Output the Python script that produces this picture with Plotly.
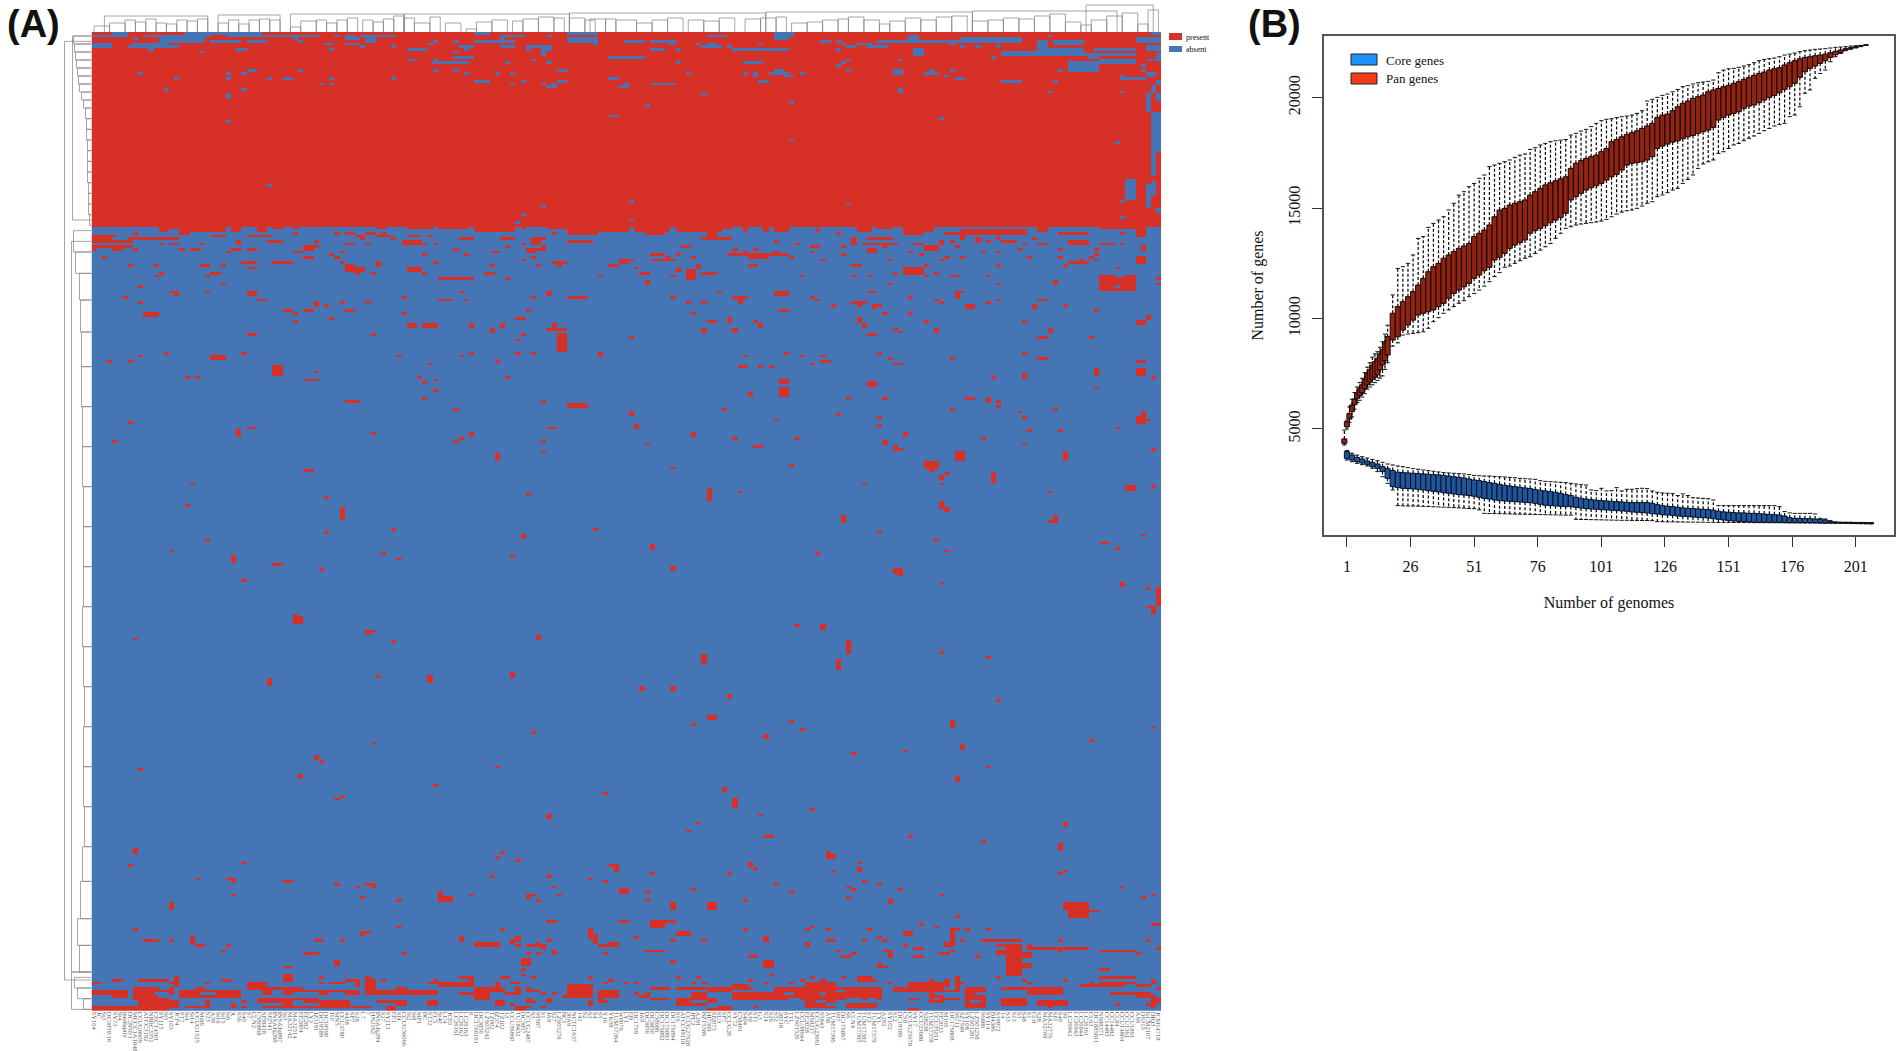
import numpy as np
import plotly.graph_objects as go

W, H = 1902, 1051

n_genomes = 207
n_genes = 367
core_block_rows = 73

genome_labels = [
    "SY104","JC","St3","DC3859/16","SY73","St4","medlaptly","DC3950/1","MCCC1A1848","CCUG8606","ATCC3192","NBRC3351",
    "CECT4301","SY115","St5","SY103","JCF4","ST7","St4","St14","CCUG1525","Mdt6","S23","A39","St16","St15","St6","X",
    "S56","S40","S7","CLN2","C580868","SJ59418","SJ2541","INSAJq268","INSAJq897","St3","MA32142","MA32514","EE2804",
    "EE282","LY3","JZ3191","DC19589","DC19590","J10","MN5","CCU3780","4438","SF7","S28","L7","7","HN2162","INSAJq294",
    "S27","SY113","EE1","Sf4","CCUG56066","St2","St8","MF1","BC","ST32","EC5","St40","LC4","JC03","LC26161","LC26162",
    "LC26163","8","DC17S6161","DC3856","LZS03242","TZ002","IZ374","TZ102","13","CCU36860","TU18432","DC3857","CCUG2487",
    "S3","S9587","S1","JA9","S27","LZS03276","BC1","30A9","NCTC1637","141","S2","S3","S4","S5","Y16","YK58","TUM17364",
    "W0076","LY1","EB","DC17S9","JA9","DC3856","DC3850","C58686","DC17S892","DC17S893","DC17S894","S16","ATCC49118",
    "CCUG27628","JFC2","A291","BZ15386","HI7369","SJ2073","SU3","SF7","CCUG26","SY72","C58461","S404","S39","ST1","G3",
    "S24","S26","S52","28318","SYC","TTL","LZS01526","CCU38644","EE2028","MS8217","CCUG23661","S5843","A58","TUM17396",
    "S97","DC17S867","S6","CLN4","TUM17383","TUM17382","ST3","TUM17379","TYL","A292","SY102","S12","DC19589","CS8",
    "CCUG25678","SY17","CCU23688","S28238","TUM17378","CCU35011","EE2023","M16S","DC17S808","S6711","SZ7549","SY108",
    "LZS01281","LZS01258","S6886","SY114","BJ4386","S39972","14","S33","S13","S5","S48","S1","CL8","S28","MA32769",
    "MA32776","SJ3","S49","S9","LC26942","LC26943","LC26944","LC26161","CL63","DC1885811","NS88371","CC14483","CC14482",
    "CL84","CCU14804","CCU1361","CCU1861","AS6","DS315","KCM2107","DIQ3","JCM14718",
]

# (first genome, first gene, genomes wide, genes tall)
absent_in_core = [
    (4,0,3,1),(18,0,15,1),(0,1,7,1),(10,1,3,1),(13,1,4,1),(17,1,6,1),(26,1,6,1),(32,1,12,1),(47,1,1,1),(49,1,2,1),
    (52,1,3,1),(55,1,4,1),(74,0,3,1),(79,1,5,1),(88,1,1,1),(92,0,6,1),(8,2,1,1),(13,2,2,3),(15,2,2,2),(17,2,5,2),
    (23,3,6,1),(30,3,4,1),(39,2,1,1),(40,3,1,1),(49,2,3,1),(53,2,2,2),(74,3,8,1),(79,2,1,1),(92,2,6,2),(97,4,1,1),
    (0,4,4,2),(7,5,10,1),(8,4,7,1),(11,6,1,1),(21,7,1,1),(28,6,2,1),(45,4,2,1),(46,6,1,1),(49,4,3,1),(52,5,1,1),
    (58,5,1,1),(61,6,4,1),(65,4,1,1),(66,3,1,1),(70,3,1,1),(70,7,1,1),(71,5,3,1),(72,6,1,1),(70,9,4,1),(79,5,3,1),
    (84,5,5,1),(84,6,1,1),(87,6,1,3),(88,6,1,1),(61,10,2,1),(66,10,1,2),(66,11,7,1),(80,11,1,1),(85,10,1,1),(88,11,1,1),
    (100,9,4,1),(90,14,2,1),(26,15,1,1),(30,14,2,1),(40,14,1,1),(66,14,1,1),(70,14,1,1),(9,15,1,1),(29,15,1,1),(72,15,1,1),
    (78,15,1,1),(81,15,1,1),(16,17,1,1),(26,17,1,1),(34,17,1,1),(37,17,2,1),(46,17,1,1),(58,17,1,1),(100,17,2,1),(74,18,3,1),
    (83,18,1,1),(90,18,2,1),(44,19,1,1),(46,19,1,1),(81,19,1,1),(87,19,1,1),(89,19,1,2),(88,20,2,1),(102,20,2,1),(14,21,1,1),
    (29,21,1,1),(26,23,1,2),(100,31,2,1),(26,33,1,1),(34,57,1,1),(87,65,1,1),(83,68,1,1),(82,71,1,1),
    (132,0,4,2),(119,1,4,1),(132,2,3,1),(108,3,5,1),(112,4,1,1),(103,3,4,1),(141,3,2,1),(144,3,1,1),(145,4,1,1),(148,4,3,1),
    (146,5,2,1),(150,5,4,1),(152,3,6,1),(158,1,2,3),(160,3,8,1),(168,2,12,2),(166,4,1,1),(168,5,1,1),(171,5,1,1),(175,5,1,1),
    (117,4,1,1),(118,5,4,1),(119,4,2,1),(123,5,1,1),(124,6,11,1),(129,4,1,1),(108,6,3,1),(113,6,1,1),(144,6,1,1),(159,6,2,3),
    (176,7,4,2),(176,8,26,1),(180,7,3,1),(183,6,3,2),(186,6,6,2),(183,3,2,3),(185,1,1,1),(186,3,6,2),(194,6,8,1),(195,10,7,2),
    (193,9,2,1),(202,2,5,2),(174,9,1,1),(103,9,4,1),(113,11,1,1),(126,11,4,1),(144,12,1,1),(145,11,1,1),(146,10,1,1),(156,10,1,1),
    (132,14,2,1),(128,15,1,2),(126,15,1,1),(131,15,4,1),(134,16,2,1),(137,15,1,1),(115,15,1,1),(146,14,1,1),(155,14,2,2),(162,14,1,1),
    (161,15,3,1),(166,14,1,1),(165,16,1,1),(167,17,2,1),(189,11,6,4),(187,14,1,1),(203,14,1,1),(204,15,2,2),(199,17,5,1),(199,16,1,1),
    (129,18,2,1),(176,18,4,1),(186,18,1,1),(103,19,1,1),(108,19,5,1),(118,23,1,1),(156,21,1,2),(185,22,1,1),(199,22,1,1),(107,27,1,1),
    (135,26,1,1),(164,32,1,1),(135,40,1,1),(198,41,1,1),(104,63,1,1),(146,64,1,1),(199,63,1,1),(200,55,2,8),(104,70,1,1),(199,69,1,1),
    (204,5,3,2),(205,0,2,1),(206,8,1,3),(203,12,1,1),(204,10,3,1),(205,30,2,9),(204,23,1,7),(205,20,1,3),(206,23,1,3),(206,18,1,2),
    (205,39,1,15),(206,39,1,6),(204,57,2,2),(204,59,1,7),(205,56,1,5),(206,66,1,2),
]

present_in_accessory = [
    # core block edge
    (15,73,2,1),(17,73,2,3),(19,73,2,2),(21,73,5,2),(27,73,2,2),(32,73,2,2),(35,73,2,1),(39,73,1,1),(55,73,2,1),(61,73,5,1),
    (67,73,6,1),(74,73,8,2),(83,73,1,1),(88,73,4,1),(92,73,6,3),(98,73,6,2),(103,73,1,2),(105,73,2,2),(107,73,1,3),(108,73,3,3),
    (111,73,1,2),(113,73,9,2),(122,73,2,1),(126,73,1,2),(130,73,1,2),(132,73,3,2),(140,74,1,1),(144,75,1,1),(148,73,3,2),(152,73,3,1),
    (157,73,4,3),(161,73,2,2),(165,75,3,1),(168,74,13,2),(183,73,2,2),(187,75,6,1),(195,73,9,1),(199,75,1,1),(202,74,2,3),
    # left half, upper
    (13,73,2,2),(0,76,5,1),(0,77,4,1),(7,77,10,1),(0,78,2,1),(2,78,6,1),(8,75,1,1),(23,76,3,1),(30,76,5,1),(34,78,3,1),
    (28,78,1,2),(39,75,1,1),(43,78,1,1),(47,75,1,1),(49,75,2,1),(51,76,2,1),(52,77,1,1),(53,75,2,1),(55,76,3,1),(56,75,1,1),
    (58,77,1,1),(61,76,3,1),(65,76,1,1),(60,78,4,2),(64,79,1,1),(66,79,1,1),(49,79,2,1),(53,79,1,1),(13,79,1,1),(15,79,2,1),
    (21,79,1,1),(71,77,3,1),(79,77,3,1),(85,77,3,1),(85,78,2,2),(83,79,1,1),(92,78,5,1),(89,75,1,1),(80,80,1,1),(87,80,1,2),
    (84,81,2,2),(86,81,2,1),(0,80,8,1),(4,81,2,1),(0,81,1,1),(8,81,1,1),(17,81,1,1),(19,81,2,1),(27,81,2,1),(26,82,1,1),
    (30,81,2,1),(39,82,2,1),(41,80,2,2),(43,80,1,1),(70,81,1,1),(77,82,2,1),(48,82,1,1),(46,83,1,1),(47,84,1,1),(64,83,1,1),
    (72,83,1,1),(2,84,1,1),(41,84,2,1),(85,84,1,1),(83,85,1,1),(29,86,3,1),(35,86,4,1),(48,86,1,1),(66,86,1,1),(55,86,1,2),
    (89,86,3,1),(90,87,1,1),(102,85,2,2),(7,87,1,1),(12,87,1,1),(21,87,2,1),(25,87,1,1),(77,87,1,1),(86,87,1,1),(100,87,2,1),
    (30,88,2,1),(49,87,2,3),(51,88,2,2),(51,90,1,1),(61,88,3,2),(64,90,1,1),(54,90,1,1),(23,90,2,1),(13,90,1,1),(12,91,1,1),
    (22,91,1,1),(76,90,2,1),(98,91,1,1),(67,92,7,1),(80,92,1,1),(9,95,1,1),(25,94,1,1),(15,97,2,1),(16,98,1,1),(22,97,1,1),
    (30,97,2,2),(71,97,1,1),(88,97,1,2),(6,99,1,1),(60,99,1,1),(85,99,1,1),(92,99,4,1),(32,100,2,1),(67,100,3,1),(72,100,1,1),
    (9,101,1,1),(43,101,1,2),(48,101,1,1),(53,101,1,1),(45,102,1,1),(37,104,2,1),(39,105,1,1),(41,104,2,1),(49,104,2,1),(84,104,1,1),
    (60,105,1,1),(10,105,3,2),(82,107,2,1),(46,107,1,1),(39,108,1,1),(61,109,2,2),(64,109,3,2),(73,109,1,2),(79,109,1,2),(89,109,1,2),
    (77,111,1,2),(88,111,4,1),(30,113,2,1),(54,113,1,1),(83,113,1,1),(90,113,2,7),(82,115,1,1),(9,121,1,1),(14,120,1,1),(23,121,3,2),
    (29,120,1,1),(59,121,1,1),(71,121,1,1),(73,120,1,1),(82,120,1,1),(85,120,1,1),(98,120,1,2),
    # right half, upper
    (132,78,1,1),(136,79,1,1),(139,80,2,1),(145,80,1,1),(147,78,1,2),(147,77,1,1),(150,77,5,1),(149,79,7,1),(153,80,1,1),(159,79,2,1),
    (161,80,3,2),(164,78,1,2),(166,78,1,1),(167,80,1,1),(168,76,1,2),(171,77,1,2),(173,78,1,1),(175,77,1,1),(176,78,3,1),(180,79,1,1),
    (182,77,1,1),(183,79,2,1),(189,78,4,2),(195,79,3,1),(199,79,1,1),(203,80,1,2),(114,80,2,1),(118,77,6,1),(119,75,2,2),(108,83,3,1),
    (113,83,1,1),(108,85,5,1),(111,84,1,1),(103,85,2,1),(116,84,1,1),(123,83,1,1),(124,81,1,1),(124,83,11,1),(126,82,1,1),(128,81,1,1),
    (132,82,1,1),(127,84,4,1),(135,84,1,1),(139,82,1,1),(141,85,1,1),(145,83,1,1),(150,81,2,2),(158,82,1,1),(160,83,1,1),(172,82,1,1),
    (175,82,1,1),(179,81,1,1),(181,84,1,1),(187,81,1,1),(187,84,1,1),(194,81,1,1),(194,83,1,1),(194,85,1,1),(193,84,1,1),(189,86,4,1),
    (191,85,1,1),(188,87,1,1),(202,84,2,3),(164,85,1,1),(165,84,1,1),(168,84,1,1),(154,85,1,1),(127,87,2,1),(147,87,2,1),(161,87,1,1),
    (175,87,1,1),(105,88,1,1),(106,90,2,1),(107,93,1,2),(112,91,1,1),(113,88,1,2),(115,89,2,4),(117,87,1,2),(118,90,3,1),(137,91,1,1),
    (147,91,1,1),(150,91,1,1),(155,90,1,1),(157,88,4,3),(161,91,1,1),(163,90,1,1),(166,91,2,1),(173,91,1,1),(198,88,1,1),(154,94,1,1),
    (175,94,1,1),(186,93,1,2),(195,91,7,6),(206,92,1,1),(206,94,1,1),(121,97,1,1),(132,97,3,2),(150,97,2,1),(167,97,2,1),(167,98,1,2),
    (112,99,1,1),(124,99,3,1),(125,100,1,2),(139,99,1,1),(140,100,1,1),(158,99,1,1),(163,100,1,1),(164,101,1,1),(175,100,1,1),(183,100,2,1),
    (115,101,1,1),(118,101,1,1),(143,102,1,1),(147,101,3,1),(148,102,1,1),(151,102,2,1),(151,103,1,1),(169,102,2,2),(173,101,1,1),(182,102,1,2),
    (188,102,1,1),(133,104,2,1),(116,105,1,1),(153,105,1,1),(158,105,1,1),(194,104,1,1),(119,108,2,1),(123,107,1,2),(128,108,1,1),(129,109,1,2),
    (148,107,1,2),(149,109,1,2),(161,108,1,1),(180,108,1,1),(202,108,2,2),(204,106,1,2),(118,111,1,2),(124,111,1,2),(155,111,1,1),(156,112,1,1),
    (163,111,1,2),(185,111,1,2),(150,113,2,1),(104,114,1,1),(183,114,2,1),(193,114,1,1),(126,121,1,1),(134,120,1,1),(137,121,1,1),(141,121,1,1),
    (152,120,1,1),(154,122,1,1),(166,122,1,1),(180,120,1,1),(183,122,2,1),
    # middle, left
    (3,123,1,1),(7,123,1,1),(23,122,3,1),(35,125,2,4),(43,127,1,1),(41,130,3,1),(18,129,1,1),(20,129,1,1),(49,138,3,1),(65,124,1,1),
    (63,129,1,1),(64,131,1,1),(66,130,1,1),(66,134,1,1),(64,137,1,1),(70,141,1,1),(78,123,1,1),(80,129,1,1),(87,138,1,1),(92,139,4,2),
    (7,146,1,1),(4,153,1,1),(28,149,1,3),(30,148,2,1),(54,150,1,1),(70,153,1,1),(71,152,1,1),(73,150,1,2),(88,148,2,1),(87,153,1,1),
    (87,157,1,1),(78,158,1,3),(41,164,2,1),(19,169,1,1),(84,173,1,1),(18,177,1,1),(45,174,1,1),(48,178,1,5),(45,187,1,1),(58,186,1,1),
    (22,190,1,1),(15,194,1,1),(83,188,1,2),(97,186,1,1),(27,196,1,3),(35,199,2,1),(44,201,1,1),(56,195,1,1),(59,197,1,1),(81,196,1,1),
    (29,205,1,1),(39,218,1,2),(39,219,2,3),(53,224,1,2),(54,224,1,1),(8,227,1,1),(58,228,1,1),(86,226,1,2),(34,242,1,3),(55,241,1,1),
    (65,241,1,3),(81,240,1,2),
    # middle, right
    (125,125,2,1),(129,125,1,1),(131,125,1,1),(139,124,1,1),(141,123,2,1),(155,124,2,1),(133,130,2,2),(133,133,2,4),(150,131,2,2),(127,135,1,2),
    (146,137,1,1),(153,137,1,1),(122,141,1,1),(104,142,1,2),(144,143,1,1),(132,145,1,1),(152,144,1,1),(152,147,1,1),(105,147,1,2),(116,150,1,2),
    (124,152,1,1),(136,152,1,1),(157,150,1,2),(153,153,1,2),(155,155,1,2),(156,156,1,1),(107,154,1,1),(128,155,2,1),(112,163,1,1),(135,162,1,1),
    (161,161,3,3),(162,164,1,1),(165,165,1,1),(164,166,1,2),(164,169,1,1),(167,157,2,4),(174,165,1,4),(149,169,1,1),(125,172,1,1),(119,171,1,5),
    (185,172,1,1),(200,170,2,2),(205,170,1,1),(188,157,1,4),(164,176,1,3),(165,178,1,2),(145,181,1,3),(186,181,1,3),(185,183,1,1),(152,187,1,1),
    (163,190,1,1),(165,194,1,1),(203,188,1,1),(195,191,2,1),(198,193,1,1),(108,192,1,2),(140,195,1,1),(112,200,1,2),(155,201,2,2),(156,203,1,1),
    (164,206,1,1),(199,206,1,2),(204,208,1,1),(206,208,1,7),(204,215,2,1),(205,216,1,2),(136,222,1,1),(141,222,1,2),(146,228,1,5),(118,233,1,4),
    (144,235,1,4),(164,232,1,1),(173,234,1,1),(106,245,1,2),(112,245,1,2),(194,126,1,3),(202,126,2,3),(202,123,2,1),(205,129,1,1),(180,128,1,2),
    (174,129,1,1),(194,133,1,1),(169,137,2,1),(173,137,1,2),(175,138,1,1),(175,140,1,1),(166,141,1,1),(179,142,1,1),(180,144,1,1),(186,141,1,1),
    (181,149,1,1),(187,149,1,1),(172,152,1,1),(180,154,1,1),(198,148,1,1),(202,144,2,3),(203,142,1,2),(204,145,1,1),(205,156,1,1),
    # lower, left
    (85,262,1,1),(54,266,1,1),(43,271,1,2),(44,273,1,1),(9,276,1,1),(78,275,1,1),(40,278,1,2),(66,282,1,1),(99,285,1,1),(47,287,1,1),
    (48,286,1,1),(88,293,1,2),(8,306,1,2),(7,312,1,1),(29,311,1,1),(79,307,1,1),(78,309,1,1),(82,310,1,1),(100,312,2,1),(101,313,1,2),
    (77,316,1,1),(88,316,1,1),(20,317,1,1),(26,317,2,1),(27,318,1,1),(37,318,2,1),(47,319,1,1),(51,320,1,1),(53,319,2,1),(54,320,1,1),
    (96,317,1,1),(99,318,1,1),(89,320,1,1),(102,321,2,2),(27,323,1,1),(73,323,1,1),(84,323,1,2),(85,323,1,1),(90,323,1,1),(52,324,1,1),
    (59,325,1,1),(86,325,1,1),(67,322,1,4),(68,324,2,2),(15,326,1,3),(88,333,2,1),(102,333,2,1),(8,336,1,1),(59,335,1,1),(79,336,1,1),
    (52,337,1,2),(53,337,1,1),(71,339,1,2),(82,339,1,2),(81,340,1,2),(10,340,3,1),(15,340,1,1),(19,339,1,3),(20,342,2,1),(26,342,1,1),
    (25,344,1,1),(43,340,2,1),(48,340,1,1),(74,341,5,2),(88,340,1,1),(82,342,1,1),(84,342,3,1),(86,341,1,1),(87,342,1,2),(96,336,1,2),
    (96,338,2,2),(97,340,1,2),(98,342,3,1),(100,341,2,2),(89,344,1,2),(84,345,1,1),(86,345,1,1),(41,345,3,1),(60,345,1,1),(99,345,1,1),
    (47,348,1,2),(83,347,2,3),(37,350,2,1),(83,351,1,1),(83,353,1,1),
    # bottom band, left
    (4,355,2,1),(9,355,6,1),(25,355,2,1),(37,353,2,3),(44,354,1,1),(44,356,1,1),(49,355,2,1),(53,354,1,1),(56,355,1,1),(71,354,3,1),
    (79,354,2,1),(96,354,1,1),(85,354,1,1),(0,356,2,1),(15,356,1,1),(16,354,1,4),(22,356,1,1),(46,356,3,1),(51,355,1,3),(53,355,2,5),
    (65,356,1,1),(66,355,1,2),(67,356,7,2),(73,354,1,4),(81,356,1,1),(82,356,1,1),(78,356,1,3),(99,356,1,1),(100,355,1,1),(103,356,1,1),
    (0,359,4,2),(4,359,3,3),(8,358,5,5),(9,362,4,3),(13,359,3,1),(15,358,1,3),(17,359,12,3),(20,358,2,1),(30,356,4,2),(30,358,5,1),
    (33,358,2,3),(35,358,2,1),(37,358,2,3),(39,358,2,2),(41,359,3,1),(44,359,2,2),(46,359,3,1),(49,359,3,2),(53,358,2,3),(55,359,2,1),
    (57,359,2,2),(59,358,2,3),(61,359,4,2),(65,359,2,2),(71,360,4,1),(74,358,3,4),(77,358,3,2),(80,360,3,1),(82,358,1,3),(84,358,1,2),
    (85,359,2,1),(87,360,1,1),(89,360,1,1),(91,361,2,1),(92,357,5,5),(98,359,4,3),(0,365,11,2),(9,364,2,1),(10,362,5,5),(15,363,2,3),
    (18,365,4,1),(22,363,1,3),(27,364,1,2),(29,363,1,1),(29,365,12,1),(32,362,9,1),(32,363,6,1),(37,362,2,3),(41,362,3,2),(44,363,6,3),
    (39,365,15,1),(50,365,4,1),(55,360,2,1),(55,363,5,1),(59,363,2,2),(57,365,2,2),(65,363,2,2),(74,362,3,1),(78,363,2,2),(81,364,1,1),
    (82,365,2,2),(84,362,1,2),(85,363,1,1),(84,365,1,1),(88,362,1,2),(87,365,1,1),(96,363,1,2),(98,362,1,2),(99,363,1,1),
    # lower, right
    (112,246,1,1),(123,248,1,2),(175,250,1,1),(119,256,2,2),(116,259,1,1),(135,258,1,1),(137,261,1,1),(166,258,1,3),(205,260,1,1),(193,265,1,1),
    (130,263,1,2),(147,270,1,1),(157,269,1,1),(168,267,1,2),(173,275,1,1),(167,279,1,2),(122,283,1,2),(124,287,1,4),(139,291,1,1),(129,293,1,1),
    (117,296,1,1),(115,299,1,1),(131,301,1,1),(130,301,1,1),(158,301,1,1),(172,303,1,1),(188,296,1,2),(187,304,1,3),(142,307,1,1),(142,308,2,2),
    (148,311,1,1),(148,313,1,2),(127,311,1,2),(128,313,1,1),(108,315,1,1),(123,315,1,1),(143,314,1,1),(187,315,1,1),(188,314,1,1),(149,318,1,1),
    (132,319,1,1),(152,319,1,1),(146,320,1,1),(147,321,1,1),(156,321,1,1),(116,321,1,1),(199,320,1,1),(103,321,1,2),(107,322,1,1),(135,322,1,1),
    (164,323,1,1),(205,323,1,1),(146,324,1,1),(203,324,1,1),(107,325,1,1),(126,325,1,1),(154,325,1,2),(112,326,1,3),(119,326,2,3),(188,326,5,3),
    (189,329,4,3),(193,329,2,1),(167,331,1,1),(103,333,1,1),(108,333,3,3),(111,333,2,1),(160,334,1,1),(163,335,1,1),(205,334,2,1),(126,336,1,1),
    (138,336,1,1),(139,335,1,1),(142,336,1,1),(150,336,1,1),(173,336,1,1),(169,336,1,1),(113,337,3,2),(157,337,2,2),(166,336,1,5),(167,336,1,1),
    (105,339,1,1),(152,339,1,1),(130,339,1,2),(112,340,1,1),(118,340,1,1),(142,340,2,1),(149,340,1,1),(153,340,1,1),(168,340,1,1),(172,340,8,1),
    (187,340,1,1),(204,340,1,1),(138,341,1,2),(165,341,2,2),(157,342,1,1),(159,343,2,1),(175,342,4,1),(177,342,3,12),(175,344,2,2),(180,345,2,2),
    (181,342,1,1),(181,343,12,1),(187,344,1,1),(195,344,7,1),(202,345,1,1),(206,343,1,1),(107,344,4,1),(144,344,1,1),(153,344,2,1),(154,345,1,2),
    (145,346,2,1),(147,345,1,1),(127,346,2,1),(159,346,2,1),(164,345,2,1),(166,344,1,1),(171,346,1,1),(112,348,1,1),(130,348,2,3),(152,349,1,2),
    (153,350,1,1),(180,349,2,2),(195,351,2,1),(131,353,1,1),(113,354,1,1),(117,354,1,1),(195,354,7,1),(175,354,1,1),
    # bottom band, right
    (127,355,1,1),(148,354,3,2),(151,355,1,1),(139,354,1,1),(141,355,1,1),(137,355,1,1),(145,354,1,1),(165,355,1,1),(167,354,1,5),(180,355,1,1),
    (181,356,1,1),(188,355,1,1),(205,355,1,1),(103,356,1,1),(105,356,1,1),(116,356,1,1),(118,356,1,1),(130,356,1,1),(135,356,1,1),(154,356,1,1),
    (141,356,3,1),(158,356,8,2),(162,355,1,3),(168,356,1,1),(193,356,1,1),(195,356,7,1),(205,356,1,1),(191,357,9,1),(202,357,3,1),(124,357,3,1),
    (108,358,4,1),(113,358,6,1),(119,358,5,2),(124,358,4,1),(132,358,6,5),(138,356,6,10),(144,358,9,5),(146,364,6,2),(124,360,8,3),(155,358,4,2),
    (158,357,6,3),(162,357,3,7),(158,362,2,1),(158,366,2,1),(165,359,3,1),(165,362,3,1),(169,358,4,8),(176,358,5,1),(176,362,5,3),(181,358,7,3),
    (183,363,6,2),(185,365,1,1),(113,362,3,3),(116,364,3,1),(116,360,2,3),(118,360,1,3),(119,362,2,2),(107,360,1,2),(105,360,1,1),(106,361,1,1),
    (108,362,4,1),(121,365,3,2),(119,366,4,1),(128,365,1,1),(197,360,8,1),(202,361,3,1),(205,361,1,5),(206,358,1,1),(206,362,1,2),(198,364,1,1),
    (204,364,2,1),
]

# small gaps inside the solid parts of the bottom band
absent_in_band = [
    (135,362,2,1),(140,363,2,1),(144,359,2,1),(150,362,2,2),(141,360,1,1),(146,362,3,1),(171,360,2,1),(170,363,2,1),
    (163,360,2,1),(163,362,1,1),(142,364,2,1),(134,360,2,1),(12,360,1,1),(21,360,3,1),(30,365,3,1),(198,91,2,1),(198,95,1,1),
]

# dendrogram brackets: (first leaf, last leaf, height above the heatmap)
top_brackets = [
    (0,3,6),(3,6,9),(6,8,12),(8,10,10),(10,12,13),(12,14,9),(14,16,8),(16,18,12),(18,20,11),(20,22,13),(24,26,9),(26,28,12),
    (28,30,8),(30,32,12),(32,34,13),(34,36,12),(38,40,5),(40,43,11),(43,45,12),(45,47,9),(47,49,12),(49,51,14),(52,54,12),(54,56,10),
    (56,58,13),(58,60,16),(60,62,14),(62,65,9),(65,67,15),(68,71,9),(72,74,3),(74,77,10),(77,80,12),(81,83,11),(83,86,13),(86,89,15),
    (89,91,14),(92,95,14),(95,97,12),(96,99,13),(99,101,13),(101,105,12),(105,108,9),(108,111,12),(111,114,14),(115,118,12),(118,121,11),(121,124,14),
    (126,129,13),(129,132,14),(132,134,15),(135,138,9),(138,141,10),(141,144,12),(144,146,13),(146,149,15),(149,152,12),(152,154,8),(154,157,11),(157,160,14),
    (160,163,12),(163,166,15),(166,169,16),(170,173,11),(173,176,12),(176,179,14),(179,182,13),(182,185,16),(185,188,18),(188,191,10),(191,193,7),(193,196,12),
    (196,199,16),(199,202,19),(202,204,8),(204,206,22),(2,22,16),(24,36,17),(38,60,18),(60,92,18),(92,130,19),(130,170,20),(170,198,21),(192,205,27),
]

left_brackets = [
    (3,355,27),(1,70,19),(78,352,20),(1,4,18),(4,7,17),(7,10,16),(10,13,15),(13,16,14),(16,19,13),(19,22,12),(22,25,10),(25,28,8),
    (28,32,6),(32,36,5),(36,40,5),(40,44,4),(44,48,4),(48,52,4),(52,56,4),(56,60,3),(60,64,3),(64,68,3),(68,72,2),(74,82,18),
    (82,90,16),(90,100,12),(100,112,11),(112,125,10),(125,140,10),(140,155,9),(155,170,9),(170,185,8),(185,200,8),(200,215,8),(215,230,9),(230,245,8),
    (245,260,7),(260,275,8),(275,290,8),(290,305,7),(305,318,9),(318,332,11),(332,342,14),(342,352,12),(352,366,20),(354,358,17),(358,362,14),(362,366,8),
]

# pan genome boxes
pan_genomes = list(range(0, 17)) + list(range(17, 206, 2))
pan_q3 = [
    4550,5330,5700,6085,6350,6650,6850,7000,7250,7520,7700,7900,8050,8200,8400,8600,8900,9180,10240,10540,10765,10990,11220,11520,11820,12120,12350,12500,12730,12880,13030,13180,13285,13400,
    13710,13860,14010,14235,14610,14915,14990,15140,15220,15290,15370,15590,15745,15895,16050,16150,16240,16330,16420,16800,17030,17150,17250,17330,17400,
    17555,17700,18010,18110,18230,18340,18415,18500,18610,18720,18840,19110,19215,19260,19410,19590,19745,19850,19970,20045,20120,20270,20350,20420,20500,
    20560,20650,20725,20830,20920,21010,21100,21160,21250,21310,21360,21480,21585,21675,21765,21825,21855,21900,21930,21975,22040,22100,22160,22220,22265,
    22310,22355,22385,
]
pan_q1 = [
    4350,5100,5450,5785,6100,6390,6520,6650,6830,7000,7120,7250,7350,7450,7680,7900,8100,8350,9030,9180,9480,9710,9930,10160,10240,10310,10390,10540,10690,10915,11140,11290,11440,11595,
    11820,11970,12170,12320,12650,12770,12950,13180,13330,13440,13560,13860,13980,14085,14205,14340,14460,14580,14765,15370,15520,15670,15820,15925,16015,
    16120,16270,16420,16530,16725,16950,17030,17060,17100,17180,17330,17705,17810,17900,17990,18050,18140,18230,18290,18385,18460,18535,18655,18990,19110,
    19215,19290,19365,19520,19620,19670,19775,19895,20015,20105,20225,20375,20500,20650,20920,21175,21330,21435,21555,21675,21825,21945,22050,22160,22235,
    22280,22340,22385,
]
pan_hi = [
    4950,5400,6000,6350,6650,6900,7100,7300,7550,7800,8000,8250,8400,8500,8700,8950,9300,9700,11070,12270,12350,12500,12880,13630,13710,14130,14310,14460,14610,14915,15220,15590,15745,15970,
    16120,16350,16500,16880,16950,17030,17100,17180,17300,17400,17450,17660,17735,17860,17930,18010,18050,18080,18110,18310,18385,18490,18565,18690,18840,
    18960,19020,19050,19100,19140,19170,19215,19290,19410,19850,19925,20015,20105,20165,20270,20375,20500,20545,20620,20680,20710,20740,20800,21130,21250,
    21310,21330,21375,21435,21495,21585,21675,21735,21765,21795,21855,21930,21975,22020,22085,22130,22160,22190,22205,22220,22250,22280,22295,22310,22340,
    22355,22370,22400,
]
pan_lo = [
    4275,5000,5300,5550,5900,6200,6300,6450,6600,6800,6900,7000,7100,7200,7300,7400,7700,8000,8750,8900,9255,9300,9330,9360,9400,9560,9860,10040,10240,10390,10540,10690,10810,10990,
    11140,11290,11470,11670,11900,12080,12320,12380,12500,12620,12730,12800,12950,13100,13250,13400,13630,13860,14085,14160,14235,14280,14310,14340,14370,
    14415,14490,14610,14730,14820,14880,14915,14990,15095,15220,15290,15520,15595,15700,15820,15895,16120,16300,16500,16800,17000,17100,17180,17480,17555,
    17700,17860,17930,18050,18160,18265,18385,18505,18610,18720,18780,18840,19140,19215,19590,20200,20350,20875,21100,21250,21630,21855,22000,22130,22190,
    22250,22310,22370,
]

core_genomes = list(range(1, 208, 2))
core_q3 = [
    3975,3820,3715,3640,3550,3490,3415,3295,3205,3115,3040,3025,3010,2995,2980,2965,2950,2935,2920,2900,2870,2840,2810,2780,2735,2690,2660,2615,2570,2540,
    2495,2450,2420,2390,2360,2330,2300,2255,2225,2195,2165,2135,2090,2030,1985,1905,1860,1830,1800,1770,1755,1740,1725,1710,1695,1680,1665,1665,1665,1665,
    1635,1575,1530,1500,1485,1455,1425,1410,1395,1380,1365,1350,1320,1275,1245,1230,1215,1200,1200,1180,1180,1165,1150,1135,1120,1105,1060,985,955,955,
    940,940,925,910,880,805,790,775,770,770,765,765,760,760,
]
core_q1 = [
    3670,3595,3520,3460,3400,3295,3220,3070,2765,2390,2345,2315,2300,2285,2270,2240,2210,2180,2150,2120,2090,2060,2030,2010,1985,1955,1905,1860,1830,1785,
    1755,1740,1725,1710,1695,1680,1665,1635,1590,1545,1530,1515,1500,1485,1485,1455,1425,1395,1380,1365,1350,1335,1320,1305,1290,1275,1245,1230,1215,1200,
    1165,1150,1120,1105,1090,1060,1045,1030,1015,1000,985,970,940,910,880,850,835,820,805,790,775,775,775,775,775,775,775,760,760,760,
    760,760,760,745,745,745,740,740,735,730,730,725,720,715,
]
core_hi = [
    4020,3900,3820,3745,3685,3625,3565,3490,3415,3370,3325,3295,3250,3205,3175,3145,3115,3085,3055,3025,3010,2995,2980,2965,2935,2900,2885,2870,2870,2855,
    2840,2825,2810,2795,2765,2750,2735,2720,2660,2630,2615,2600,2585,2570,2540,2510,2480,2465,2240,2210,2315,2195,2210,2345,2195,2270,2270,2300,2315,2300,
    2195,2135,2105,2090,2075,1985,2060,1985,1890,1875,1860,1845,1785,1530,1530,1530,1530,1530,1530,1530,1530,1530,1530,1530,1530,1485,1260,1200,1180,1180,
    1180,1180,1150,955,925,850,790,775,775,775,770,770,765,760,
]
core_lo = [
    3595,3520,3445,3385,3325,3220,3070,2840,2540,2240,1530,1520,1515,1510,1505,1500,1490,1480,1470,1460,1450,1440,1430,1415,1400,1390,1340,1180,1175,1170,
    1165,1160,1155,1150,1145,1140,1135,1130,1125,1120,1115,1110,1105,1100,1100,910,905,900,895,890,885,880,875,870,865,865,860,860,855,855,
    850,805,800,795,795,790,790,785,785,780,780,775,775,770,770,768,766,765,763,762,760,760,758,756,755,754,750,750,748,745,
    743,740,738,735,733,730,728,725,722,718,715,710,705,700,
]

pb_x_ticks = [1, 26, 51, 76, 101, 126, 151, 176, 201]
pb_y_ticks = [5000, 10000, 15000, 20000]


def fx(px):
    return px / W


def fy(px):
    return 1 - px / H


def whiskers(xs, box_edge, tips):
    # one dashed segment per box, None keeps the segments apart
    wx, wy = [], []
    for x, a, b in zip(xs, box_edge, tips):
        wx += [x, x, None]
        wy += [a, b, None]
    return wx, wy


presence = np.zeros((n_genes, n_genomes))
presence[:core_block_rows] = 1
for c, r, w, h in absent_in_core:
    presence[r:r + h, c:c + w] = 0
for c, r, w, h in present_in_accessory:
    presence[r:r + h, c:c + w] = 1
for c, r, w, h in absent_in_band:
    presence[r:r + h, c:c + w] = 0

fig = go.Figure()

fig.add_trace(go.Heatmap(
    z=presence, zmin=0, zmax=1, showscale=False, hoverinfo="skip",
    colorscale=[[0, "#4575b4"], [0.5, "#4575b4"], [0.5, "#d73027"], [1, "#d73027"]],
))

# dendrograms
tx, ty = [], []
for a, b, h in top_brackets:
    tx += [a, a, b, b, None]
    ty += [0, h, h, 0, None]
fig.add_trace(go.Scatter(x=tx, y=ty, xaxis="x3", yaxis="y3", mode="lines", hoverinfo="skip",
                         line=dict(color="#808080", width=0.7)))
lx, ly = [], []
for a, b, h in left_brackets:
    lx += [0, h, h, 0, None]
    ly += [a, a, b, b, None]
fig.add_trace(go.Scatter(x=lx, y=ly, xaxis="x4", yaxis="y4", mode="lines", hoverinfo="skip",
                         line=dict(color="#808080", width=0.7)))

# panel B
series = [
    (pan_genomes, pan_q1, pan_q3, pan_lo, pan_hi, "#8f2415", "#1a0300"),
    (core_genomes, core_q1, core_q3, core_lo, core_hi, "#1f5599", "#04102a"),
]
for xs, q1, q3, lo, hi, fill, edge in series:
    for box_edge, tips in ((q3, hi), (q1, lo)):
        wx, wy = whiskers(xs, box_edge, tips)
        fig.add_trace(go.Scatter(x=wx, y=wy, xaxis="x2", yaxis="y2", mode="lines", hoverinfo="skip",
                                 line=dict(color="#000000", width=1.2, dash="3px,2px")))
        fig.add_trace(go.Scatter(x=xs, y=tips, xaxis="x2", yaxis="y2", mode="markers", hoverinfo="skip",
                                 marker=dict(symbol="line-ew", size=3, line=dict(color="#111111", width=1))))
    fig.add_trace(go.Bar(x=xs, base=q1, y=[t - b for t, b in zip(q3, q1)], width=2,
                         xaxis="x2", yaxis="y2", hoverinfo="skip",
                         marker=dict(color=fill, line=dict(color=edge, width=1))))

serif = "Liberation Serif"
swatches = [
    (1169, 33, 1182, 40, "#d73027", None),
    (1169, 46, 1182, 52, "#4575b4", None),
    (1351, 54, 1377, 65, "#1e90ff", "#222222"),
    (1351, 73, 1377, 84, "#f53a1a", "#222222"),
]
shapes = [dict(type="rect", xref="paper", yref="paper", x0=fx(a), x1=fx(c), y0=fy(b), y1=fy(d),
               fillcolor=col, line=dict(color=edge or col, width=1 if edge else 0))
          for a, b, c, d, col, edge in swatches]

notes = [
    ("(A)", 5, 24, 38, "Liberation Sans", True),
    ("(B)", 1246, 24, 38, "Liberation Sans", True),
    ("present", 1184, 37, 8, serif, False),
    ("absent", 1184, 49, 8, serif, False),
    ("Core genes", 1384, 60, 13, serif, False),
    ("Pan genes", 1384, 79, 13, serif, False),
]
annotations = [dict(text=f"<b>{t}</b>" if bold else t, x=fx(x), y=fy(y), xref="paper", yref="paper",
                    xanchor="left", yanchor="middle", showarrow=False,
                    font=dict(family=fam, size=s, color="#111111"))
               for t, x, y, s, fam, bold in notes]

hm_x = [fx(91.5), fx(1161)]
hm_y = [fy(1010.7), fy(32)]

fig.update_layout(
    width=W, height=H, margin=dict(l=0, r=0, t=0, b=0), autosize=False,
    paper_bgcolor="white", plot_bgcolor="white", showlegend=False, barmode="overlay",
    shapes=shapes, annotations=annotations,
    font=dict(family=serif, color="#111111"),
    xaxis=dict(domain=hm_x, range=[-0.5, n_genomes - 0.5], showgrid=False, zeroline=False,
               tickmode="array", tickvals=list(range(len(genome_labels))), ticktext=genome_labels,
               tickangle=90, tickfont=dict(family=serif, size=6.5, color="#555555"), ticks="", automargin=False),
    yaxis=dict(domain=hm_y, range=[n_genes - 0.5, -0.5], showgrid=False, zeroline=False, showticklabels=False, ticks=""),
    xaxis3=dict(domain=hm_x, range=[-0.5, n_genomes - 0.5], visible=False, anchor="y3"),
    yaxis3=dict(domain=[fy(32), fy(4)], range=[0, 28], visible=False, anchor="x3"),
    xaxis4=dict(domain=[fx(62), fx(91.5)], range=[29.5, 0], visible=False, anchor="y4"),
    yaxis4=dict(domain=hm_y, range=[n_genes - 0.5, -0.5], visible=False, anchor="x4"),
    xaxis2=dict(domain=[fx(1324), fx(1894)], range=[-8, 216], anchor="y2", showline=True, mirror=True,
                linecolor="#555555", linewidth=1.5, showgrid=False, zeroline=False, ticks="outside", ticklen=10,
                tickcolor="#333333", tickvals=pb_x_ticks, ticklabelstandoff=6, tickfont=dict(size=16),
                title=dict(text="Number of genomes", font=dict(size=16), standoff=23)),
    yaxis2=dict(domain=[fy(535), fy(36)], range=[200, 22794], anchor="x2", showline=True, mirror=True,
                linecolor="#555555", linewidth=1.5, showgrid=False, zeroline=False, ticks="outside", ticklen=10,
                tickcolor="#333333", tickvals=pb_y_ticks, tickformat="d", tickangle=-90, ticklabelstandoff=6,
                tickfont=dict(size=16), title=dict(text="Number of genes", font=dict(size=16), standoff=18)),
)

fig.write_html("out.html", config=dict(displayModeBar=False), post_script="document.body.style.margin='0';")
